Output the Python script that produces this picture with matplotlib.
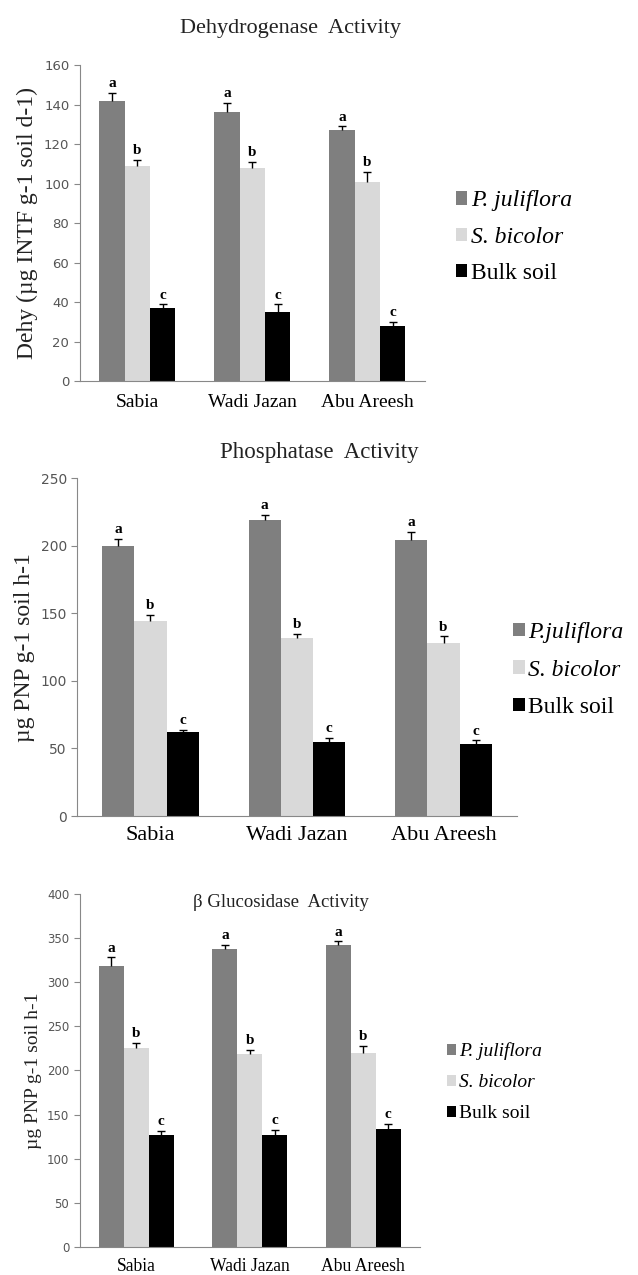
import numpy as np
import matplotlib.pyplot as plt
from matplotlib.patches import Patch

sites = ['Sabia', 'Wadi Jazan', 'Abu Areesh']
series = ['P. juliflora', 'S. bicolor', 'Bulk soil']
series_phos = ['P.juliflora', 'S. bicolor', 'Bulk soil']
colors = ['#7f7f7f', '#d9d9d9', '#000000']
letters = ['a', 'b', 'c']

# Dehydrogenase
dehy_pj = [142, 136, 127]
dehy_sb = [109, 108, 101]
dehy_bs = [37, 35, 28]
dehy_pj_err = [4, 5, 2]
dehy_sb_err = [3, 3, 5]
dehy_bs_err = [2, 4, 2]

# Phosphatase
phos_pj = [200, 219, 204]
phos_sb = [144, 132, 128]
phos_bs = [62, 55, 53]
phos_pj_err = [5, 4, 6]
phos_sb_err = [5, 3, 5]
phos_bs_err = [2, 3, 3]

# beta glucosidase
gluc_pj = [318, 338, 342]
gluc_sb = [225, 218, 220]
gluc_bs = [127, 127, 134]
gluc_pj_err = [10, 4, 4]
gluc_sb_err = [6, 5, 8]
gluc_bs_err = [4, 6, 5]

plt.rcParams['font.family'] = 'Liberation Serif'

fig = plt.figure(figsize=(6.38, 12.75), dpi=100)


def panel(rect, vals, errs, ymax, ystep, title, title_xy, title_fs, ylabel, ylab_fs,
          tick_fs, xtick_fs, xpad, letter_fs, labels, leg_xy, leg_fs, leg_space):
    ax = fig.add_axes(rect)
    x = np.arange(len(sites))
    w = 0.22
    for i, (v, e) in enumerate(zip(vals, errs)):
        pos = x + (i - 1) * w
        ax.bar(pos, v, w, color=colors[i], zorder=2)
        eb = ax.errorbar(pos, v, yerr=[np.zeros(len(e)), e], fmt='none', ecolor='black',
                         elinewidth=1, capsize=3, capthick=1, zorder=3)
        eb[1][0].set_visible(False)
        for p, vv, ee in zip(pos, v, e):
            ax.text(p, vv + ee + ymax * 0.008, letters[i], ha='center', va='bottom',
                    fontsize=letter_fs, fontweight='bold')
    ax.set_xlim(-0.5, 2.5)
    ax.set_ylim(0, ymax)
    ax.set_yticks(np.arange(0, ymax + 1, ystep))
    ax.set_xticks(x)
    ax.set_xticklabels(sites, fontsize=xtick_fs)
    ax.tick_params(axis='x', length=0, pad=xpad)
    ax.tick_params(axis='y', length=4, color='#888888', labelcolor='#555555',
                   labelsize=tick_fs)
    for lab in ax.get_yticklabels():
        lab.set_family('DejaVu Sans')
    for s in ['top', 'right']:
        ax.spines[s].set_visible(False)
    for s in ['left', 'bottom']:
        ax.spines[s].set_color('#888888')
    ax.set_ylabel(ylabel, fontsize=ylab_fs, color='#222222')
    fig.text(title_xy[0], title_xy[1], title, ha='center', va='center',
             fontsize=title_fs, color='#222222')
    handles = [Patch(facecolor=c) for c in colors]
    leg = fig.legend(handles, labels, loc='center left', bbox_to_anchor=leg_xy,
                     frameon=False, fontsize=leg_fs, handlelength=0.5,
                     handleheight=0.5, handletextpad=0.15, labelspacing=leg_space,
                     borderpad=0, borderaxespad=0)
    for t in leg.get_texts()[:2]:
        t.set_fontstyle('italic')
    return ax


panel([0.125, 0.701, 0.541, 0.248],
      [dehy_pj, dehy_sb, dehy_bs], [dehy_pj_err, dehy_sb_err, dehy_bs_err],
      160, 20, 'Dehydrogenase  Activity', (0.456, 0.978), 16,
      'Dehy (µg INTF g-1 soil d-1)', 17, 9.5, 14, 9, 11, series,
      (0.714, 0.814), 17, 0.65)

panel([0.121, 0.360, 0.689, 0.265],
      [phos_pj, phos_sb, phos_bs], [phos_pj_err, phos_sb_err, phos_bs_err],
      250, 50, 'Phosphatase  Activity', (0.50, 0.645), 16.5,
      'µg PNP g-1 soil h-1', 17, 10, 16, 7, 11, series_phos,
      (0.804, 0.4745), 17, 0.7)

panel([0.125, 0.022, 0.533, 0.277],
      [gluc_pj, gluc_sb, gluc_bs], [gluc_pj_err, gluc_sb_err, gluc_bs_err],
      400, 50, 'β Glucosidase  Activity', (0.44, 0.292), 13.5,
      'µg PNP g-1 soil h-1', 14, 8.5, 12.7, 8, 11, series,
      (0.700, 0.151), 14, 0.72)

fig.savefig('out.png', dpi=100)
